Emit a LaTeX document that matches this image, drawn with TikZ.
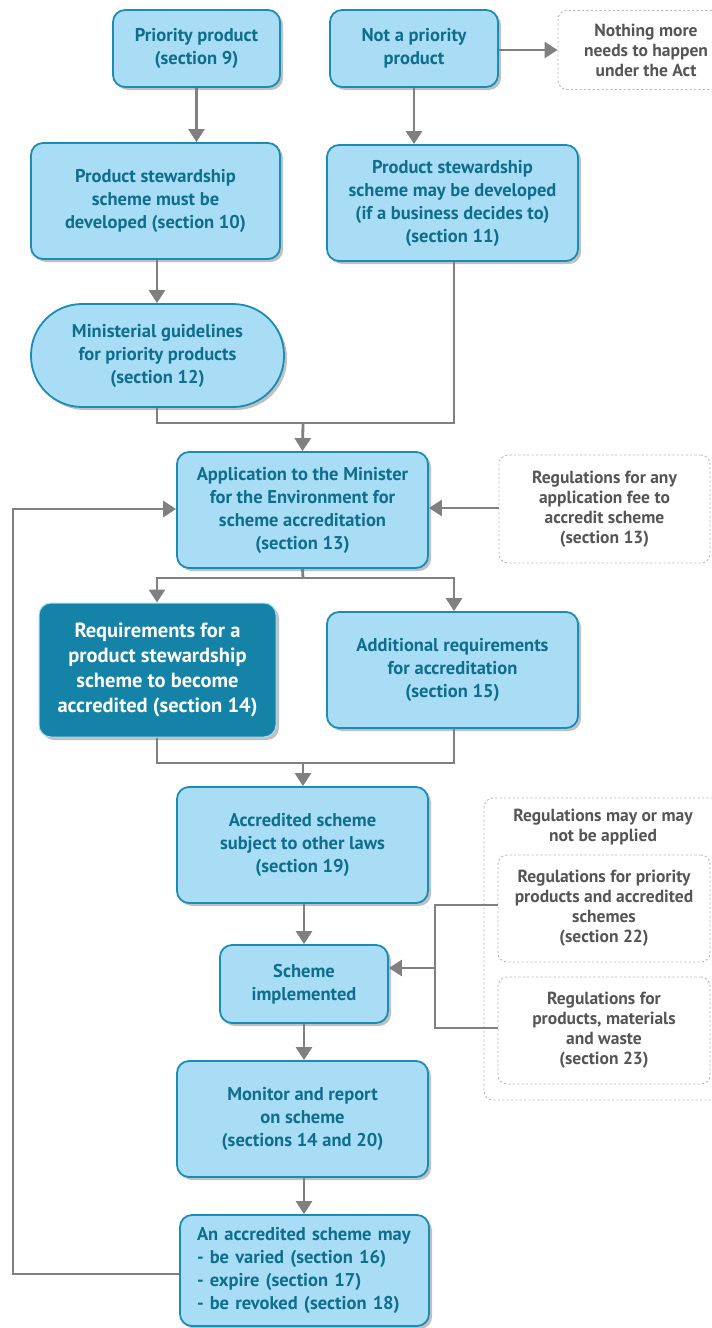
\documentclass[tikz,border=0pt]{standalone}
\usepackage{fontspec}
\setmainfont{PT Sans}
\usetikzlibrary{arrows.meta,shadows,calc}
\definecolor{lfill}{HTML}{A8DDF5}
\definecolor{lline}{HTML}{1A8CB5}
\definecolor{ltext}{HTML}{0F6E8C}
\definecolor{dfill}{HTML}{1583A8}
\definecolor{conn}{HTML}{808080}
\definecolor{dtext}{HTML}{555555}
\tikzset{
  lbox/.style={draw=lline, line width=1.8pt, fill=lfill, rounded corners=12pt,
    text=ltext, font=\bfseries\fontsize{18.5}{23}\selectfont, align=center, inner sep=2pt,
    drop shadow={shadow xshift=3pt, shadow yshift=-3pt, opacity=0.35, fill=black!70}},
  dbox/.style={draw=lfill, line width=1pt, fill=dfill, rounded corners=12pt,
    text=white, font=\bfseries\fontsize{20.5}{25}\selectfont, align=center, inner sep=2pt,
    drop shadow={shadow xshift=3pt, shadow yshift=-3pt, opacity=0.35, fill=black!70}},
  gbox/.style={draw=gray!55, line width=0.9pt, dash pattern=on 2.2pt off 2.2pt, rounded corners=9pt,
    text=dtext, font=\bfseries\fontsize{17.5}{20}\selectfont, align=center, inner sep=2pt},
  gtext/.style={text=dtext, font=\bfseries\fontsize{17.5}{20}\selectfont, align=center, inner sep=0pt},
  conline/.style={draw=conn, line width=2.8pt},
  conarrow/.style={draw=conn, line width=2.8pt, -{Triangle[width=16pt,length=13pt]}},
}
\begin{document}
\begin{tikzpicture}[x=1pt,y=-1pt]
\clip (0,0) rectangle (712,1328);
\useasboundingbox (0,0) rectangle (712,1328);
\fill[white] (0,0) rectangle (712,1328);

% nodes
\node[lbox, minimum width=167pt, minimum height=77pt] (pp) at (196.5,48.5) {Priority product\\(section 9)};
\node[lbox, minimum width=168pt, minimum height=77pt] (np) at (414,48.5) {Not a priority\\product};
\node[gbox, minimum width=176pt, minimum height=79pt] (nm) at (646,50) {Nothing more\\needs to happen\\under the Act};
\node[lbox, minimum width=249pt, minimum height=116pt] (b10) at (155.5,201) {Product stewardship\\scheme must be\\developed (section 10)};
\node[lbox, minimum width=251pt, minimum height=116pt] (b11) at (452.5,203) {Product stewardship\\scheme may be developed\\(if a business decides to)\\(section 11)};
\node[lbox, rounded corners=51pt, minimum width=253pt, minimum height=103pt] (b12) at (157.5,355.5) {Ministerial guidelines\\for priority products\\(section 12)};
\node[lbox, minimum width=251pt, minimum height=116pt] (b13) at (302.5,510) {Application to the Minister\\for the Environment for\\scheme accreditation\\(section 13)};
\node[gbox, minimum width=211pt, minimum height=108pt] (r13) at (604.5,509) {Regulations for any\\application fee to\\accredit scheme\\(section 13)};
\node[dbox, minimum width=237pt, minimum height=134pt] (b14) at (157.5,670) {Requirements for a\\product stewardship\\scheme to become\\accredited (section 14)};
\node[lbox, minimum width=251pt, minimum height=116pt] (b15) at (452.5,670) {Additional requirements\\for accreditation\\(section 15)};
\node[lbox, minimum width=251pt, minimum height=116pt] (b19) at (302.5,845) {Accredited scheme\\subject to other laws\\(section 19)};
\node[lbox, minimum width=168pt, minimum height=78pt] (impl) at (304,984) {Scheme\\implemented};
\node[lbox, minimum width=251pt, minimum height=116pt] (mon) at (302.5,1119) {Monitor and report\\on scheme\\(sections 14 and 20)};
\node[lbox, align=left, minimum width=249pt, minimum height=111pt, text width=215pt] (last) at (304.5,1270.5) {An accredited scheme may\\- be varied (section 16)\\- expire (section 17)\\- be revoked (section 18)};
\node[gbox, minimum width=238pt, minimum height=302pt] (rout) at (603,949) {};
\node[gtext] (rtitle) at (603,827) {Regulations may or may\\not be applied};
\node[gbox, minimum width=212pt, minimum height=107pt] (r22) at (604,908.5) {Regulations for priority\\products and accredited\\schemes\\(section 22)};
\node[gbox, minimum width=212pt, minimum height=107pt] (r23) at (604,1030.5) {Regulations for\\products, materials\\and waste\\(section 23)};

% coordinates
\coordinate (j1) at (303,423);
\coordinate (j2) at (303,578);
\coordinate (j3) at (303,763);
\coordinate (fb) at (13,1274);
\coordinate (br) at (435,968);

% connectors
\draw[conarrow] (pp.south) -- (pp.south |- b10.north);
\draw[conarrow] (np.south) -- (np.south |- b11.north);
\draw[conarrow] (np.east |- 0,50) -- (nm.west |- 0,50);
\draw[conarrow] (b10.south -| 157,0) -- (b12.north -| 157,0);
\draw[conline] (b12.south -| 157,0) |- (j1);
\draw[conline] (b11.south -| 454,0) |- (j1);
\draw[conarrow] (j1) -- (b13.north);
\draw[conarrow] (r13.west |- 0,508) -- (b13.east |- 0,508);
\draw[conline] (b13.south) -- (j2);
\draw[conarrow] (j2) -| (b14.north -| 157,0);
\draw[conarrow] (j2) -| (b15.north -| 454,0);
\draw[conline] (b14.south -| 157,0) |- (j3);
\draw[conline] (b15.south -| 454,0) |- (j3);
\draw[conarrow] (j3) -- (b19.north -| j3);
\draw[conarrow] (b19.south -| 304,0) -- (impl.north);
\draw[conarrow] (impl.south) -- (impl.south |- mon.north);
\draw[conarrow] (mon.south -| 304,0) -- (last.north -| 304,0);
\draw[conarrow] (last.west |- fb) -- (fb) |- (b13.west |- 0,509);
\draw[conline] (r22.west |- 0,905) -| (br);
\draw[conline] (r23.west |- 0,1028) -| (br);
\draw[conarrow] (br) -- (impl.east |- br);
\end{tikzpicture}
\end{document}
